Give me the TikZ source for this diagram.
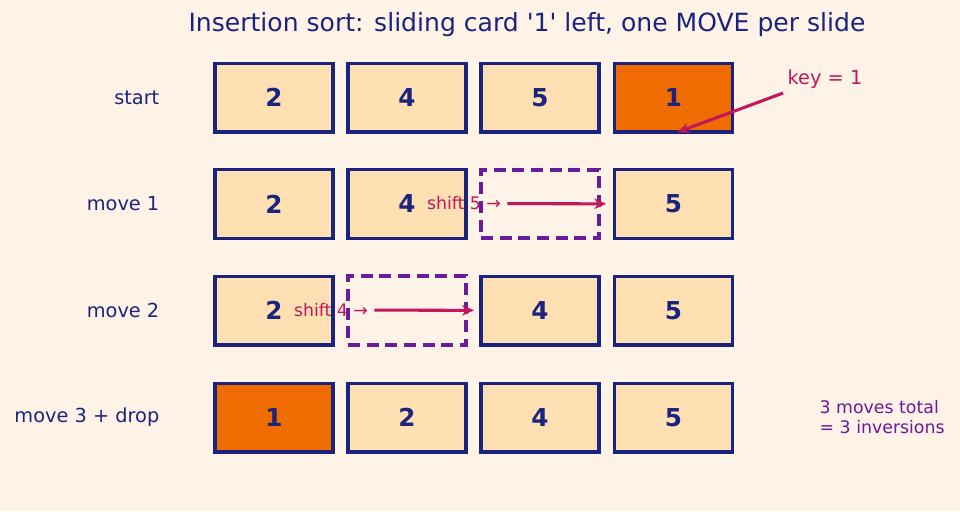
\documentclass[tikz,border=0pt]{standalone}
\usepackage{fontspec}
\setmainfont{DejaVu Sans}
\usetikzlibrary{arrows.meta}
\definecolor{bgcolor}{HTML}{FFF3E8}
\definecolor{cardfill}{HTML}{FFE0B2}
\definecolor{keycolor}{HTML}{EF6C00}
\definecolor{inkblue}{HTML}{1A237E}
\definecolor{gapcolor}{HTML}{6A1B9A}
\definecolor{movecolor}{HTML}{C2185B}

\tikzset{
  card/.style={draw=inkblue, line width=2.5pt, fill=cardfill, minimum width=88.5pt,
    minimum height=51.5pt, inner sep=0pt, text=inkblue,
    font=\fontsize{18.5}{22}\selectfont\bfseries},
  keycard/.style={card, fill=keycolor},
  gap/.style={draw=gapcolor, line width=2.8pt, dash pattern=on 9pt off 5pt,
    minimum width=88.5pt, minimum height=51.5pt, inner sep=0pt},
  rowlabel/.style={anchor=east, text=inkblue, font=\fontsize{14.5}{17}\selectfont},
  shiftlabel/.style={text=movecolor, inner sep=2pt, font=\fontsize{13}{15}\selectfont},
  slide/.style={draw=movecolor, line width=2.3pt, -{Stealth[length=9pt, width=8pt]}}
}

\begin{document}
\begin{tikzpicture}[x=0.75pt, y=-0.75pt]
  \useasboundingbox[fill=bgcolor] (0,0) rectangle (960,511);

  % Title
  \node[text=inkblue, font=\fontsize{18.8}{23}\selectfont] (title) at (527,25)
    {Insertion sort: sliding card \textquotesingle1\textquotesingle\ left, one MOVE per slide};

  % Row labels
  \node[rowlabel] (lab0) at (164,97.5) {start};
  \node[rowlabel] (lab1) at (164,204) {move 1};
  \node[rowlabel] (lab2) at (164,310.5) {move 2};
  \node[rowlabel] (lab3) at (164,417.5) {move 3 + drop};

  % start
  \node[card] (r0c1) at (274,97.5) {2};
  \node[card] (r0c2) at (407,97.5) {4};
  \node[card] (r0c3) at (540,97.5) {5};
  \node[keycard] (r0c4) at (673.5,97.5) {1};

  % move 1
  \node[card] (r1c1) at (274,204) {2};
  \node[card] (r1c2) at (407,204) {4};
  \node[gap] (r1c3) at (540,204) {};
  \node[card] (r1c4) at (673.5,204) {5};

  % move 2
  \node[card] (r2c1) at (274,310.5) {2};
  \node[gap] (r2c2) at (407,310.5) {};
  \node[card] (r2c3) at (540,310.5) {4};
  \node[card] (r2c4) at (673.5,310.5) {5};

  % move 3 + drop
  \node[keycard] (r3c1) at (274,417.5) {1};
  \node[card] (r3c2) at (407,417.5) {2};
  \node[card] (r3c3) at (540,417.5) {4};
  \node[card] (r3c4) at (673.5,417.5) {5};

  % Notes
  \node[text=movecolor, font=\fontsize{14.5}{17}\selectfont] (key) at (825,79) {key = 1};
  \node[shiftlabel] (shift5) at (464,203.5) {shift 5 →};
  \node[shiftlabel] (shift4) at (331,310) {shift 4 →};
  \node[text=gapcolor, align=left, anchor=west, font=\fontsize{13}{15}\selectfont] (total)
    at (815,417) {3 moves total\\= 3 inversions};

  % Arrows
  \draw[slide] (key.south west) -- ([xshift=3pt, yshift=1pt]r0c4.south);
  \draw[slide, shorten <=2.5pt, shorten >=5pt] (shift5) -- (r1c4);
  \draw[slide, shorten <=2.5pt, shorten >=4pt] (shift4) -- (r2c3);
\end{tikzpicture}
\end{document}
